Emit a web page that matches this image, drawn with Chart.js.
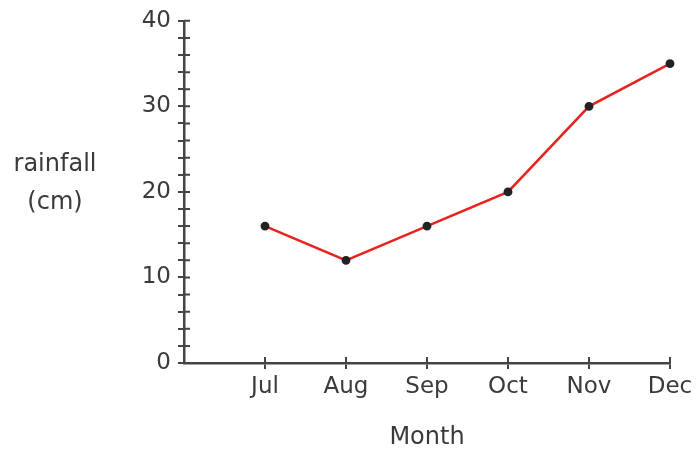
<!DOCTYPE html>
<html>
<head>
<meta charset="utf-8">
<script src="https://cdn.jsdelivr.net/npm/chart.js@4.4.1/dist/chart.umd.min.js"></script>
<style>
  html, body { margin: 0; padding: 0; background: #fff; }
  #wrap { position: relative; width: 698px; height: 452px; }
  #yTitle {
    position: absolute; left: 0; top: 144px; width: 110px;
    text-align: center; font: 24px "DejaVu Sans", sans-serif;
    color: #3a3a3a; line-height: 38px;
  }
</style>
</head>
<body>
<div id="wrap">
  <canvas id="chart" width="698" height="452"></canvas>
  <div id="yTitle">rainfall<br>(cm)</div>
</div>
<script>
// categorias (o primeiro rótulo vazio fica na origem do eixo)
var months = ['', 'Jul', 'Aug', 'Sep', 'Oct', 'Nov', 'Dec'];
var rainfall = [null, 16, 12, 16, 20, 30, 35];
var yTicks = [0, 10, 20, 30, 40];

var axisColor = '#444';
var textColor = '#3a3a3a';
var fontFamily = '"DejaVu Sans", sans-serif';

// desenha a metade interna das marcas para que cruzem o eixo
var crossTicks = {
  id: 'crossTicks',
  afterDatasetsDraw: function (chart) {
    var c = chart.ctx;
    var xs = chart.scales.x, ys = chart.scales.y;
    var len = 6;
    c.save();
    c.strokeStyle = axisColor;
    c.lineWidth = 2;
    c.beginPath();
    for (var v = ys.min; v <= ys.max; v += 2) {
      var py = ys.getPixelForValue(v);
      c.moveTo(xs.left, py);
      c.lineTo(xs.left + len, py);
    }
    for (var i = 1; i < months.length; i++) {
      var px = xs.getPixelForValue(i);
      c.moveTo(px, ys.bottom);
      c.lineTo(px, ys.bottom - len);
    }
    c.stroke();
    c.restore();
  }
};

var ctx = document.getElementById('chart').getContext('2d');
var chart = new Chart(ctx, {
  type: 'line',
  data: {
    labels: months,
    datasets: [{
      data: rainfall,
      borderColor: '#e8231f',
      borderWidth: 2.5,
      pointBackgroundColor: '#222',
      pointBorderColor: '#222',
      pointRadius: 3.2,
      tension: 0,
      clip: false
    }]
  },
  options: {
    responsive: false,
    animation: false,
    layout: { padding: { top: 16, right: 28, left: 0, bottom: 0 } },
    plugins: { legend: { display: false }, tooltip: { enabled: false } },
    scales: {
      x: {
        offset: false,
        border: { color: axisColor, width: 2.5 },
        grid: {
          drawOnChartArea: false,
          drawTicks: true,
          tickLength: 6,
          lineWidth: 2,
          color: function (c) { return c.index === 0 ? 'rgba(0,0,0,0)' : axisColor; }
        },
        ticks: {
          color: textColor,
          font: { family: fontFamily, size: 23 },
          padding: 4,
          maxRotation: 0,
          autoSkip: false
        },
        title: {
          display: true,
          text: 'Month',
          color: textColor,
          font: { family: fontFamily, size: 24 },
          padding: { top: 11, bottom: 0 }
        },
        afterFit: function (s) { s.height = 89; }
      },
      y: {
        min: 0,
        max: 40,
        border: { color: axisColor, width: 2.5 },
        grid: {
          drawOnChartArea: false,
          drawTicks: true,
          tickLength: 6,
          lineWidth: 2,
          color: axisColor
        },
        ticks: {
          stepSize: 2,
          autoSkip: false,
          color: textColor,
          font: { family: fontFamily, size: 23 },
          padding: 7,
          callback: function (v) { return yTicks.indexOf(v) >= 0 ? String(v) : ''; }
        },
        afterFit: function (s) { s.width = 184; }
      }
    }
  },
  plugins: [crossTicks]
});
</script>
</body>
</html>
